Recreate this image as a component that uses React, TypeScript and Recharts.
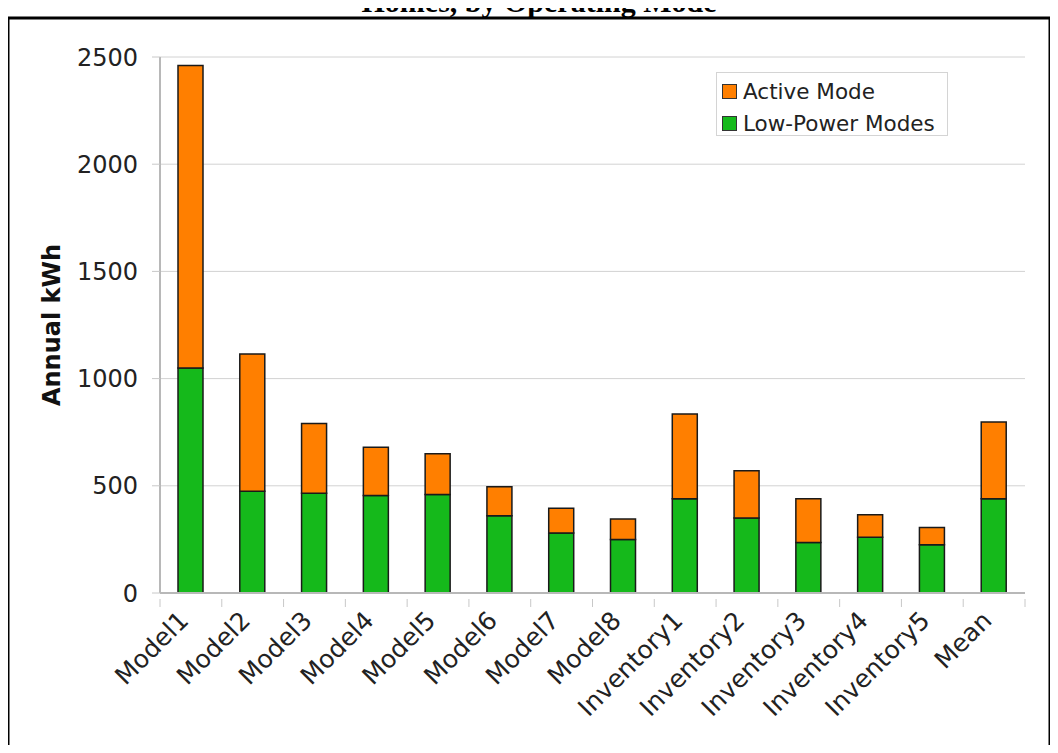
import { BarChart, Bar, XAxis, YAxis, CartesianGrid } from 'recharts'

const categories = [
  'Model1', 'Model2', 'Model3', 'Model4', 'Model5', 'Model6', 'Model7', 'Model8',
  'Inventory1', 'Inventory2', 'Inventory3', 'Inventory4', 'Inventory5', 'Mean',
]
const lowPower = [1050, 475, 465, 455, 460, 360, 280, 250, 440, 350, 235, 260, 225, 440]
const activeMode = [1410, 640, 325, 225, 190, 135, 115, 95, 395, 220, 205, 105, 80, 357]
const yTicks = [0, 500, 1000, 1500, 2000, 2500]

const data = categories.map((name, i) => ({ name, low: lowPower[i], active: activeMode[i] }))

const ORANGE = '#ff7f00'
const GREEN = '#15b91b'
const FONT = '"DejaVu Sans", Verdana, sans-serif'

function CatTick({ x, y, payload, index }: any) {
  const half = payload.offset || 0
  const last = index === categories.length - 1
  return (
    <g>
      <line x1={x - half} x2={x - half} y1={y} y2={y + 8} stroke="#c8c8c8" />
      {last && <line x1={x + half} x2={x + half} y1={y} y2={y + 8} stroke="#c8c8c8" />}
      <g transform={`translate(${x - 7},${y + 17})`}>
        <text textAnchor="end" dominantBaseline="central" transform="rotate(-45)"
          fontSize={25} fill="#222" fontFamily={FONT}>{payload.value}</text>
      </g>
    </g>
  )
}

function YLabel({ viewBox }: any) {
  const cx = viewBox.x + 44
  const cy = viewBox.y + viewBox.height / 2
  return (
    <text x={cx} y={cy} transform={`rotate(-90,${cx},${cy})`} textAnchor="middle"
      dominantBaseline="central" fontSize={24} fontWeight="bold" fill="#111" fontFamily={FONT}>
      Annual kWh
    </text>
  )
}

function LegendBox() {
  const items = [
    { label: 'Active Mode', color: ORANGE },
    { label: 'Low-Power Modes', color: GREEN },
  ]
  return (
    <div style={{ position: 'absolute', left: 716, top: 72, width: 232, height: 64, border: '1px solid #d4d4d4', background: '#fff', boxSizing: 'border-box', paddingTop: 2 }}>
      {items.map((it) => (
        <div key={it.label} style={{ display: 'flex', alignItems: 'center', height: 32, fontFamily: FONT, fontSize: 21.5, color: '#222', whiteSpace: 'nowrap' }}>
          <span style={{ width: 13, height: 13, background: it.color, border: '1px solid #333', marginLeft: 5, marginRight: 6, display: 'inline-block', flex: 'none' }} />
          {it.label}
        </div>
      ))}
    </div>
  )
}

export default function App() {
  return (
    <div style={{ position: 'relative', margin: -8, width: 1058, height: 753, overflow: 'hidden', background: '#fff' }}>
      <BarChart width={1058} height={753} data={data} barSize={25}
        margin={{ top: 57, right: 33, bottom: 30, left: 8 }}>
        <CartesianGrid vertical={false} stroke="#d2d2d2" />
        <XAxis dataKey="name" interval={0} tickLine={false} tickMargin={0}
          axisLine={{ stroke: '#b8b8b8', strokeWidth: 2 }} tick={<CatTick />} height={130} />
        <YAxis domain={[0, 2500]} ticks={yTicks} width={152} tickSize={8} tickMargin={14}
          axisLine={{ stroke: '#b8b8b8', strokeWidth: 2 }} tickLine={{ stroke: '#c8c8c8' }}
          tick={{ fill: '#222', fontSize: 24, fontFamily: FONT }} label={<YLabel />} />
        <YAxis yAxisId="right" orientation="right" width={0} tick={false} tickLine={false}
          axisLine={{ stroke: '#b8b8b8', strokeWidth: 2 }} />
        <Bar dataKey="low" name="Low-Power Modes" stackId="a" fill={GREEN}
          stroke="#1a1a1a" strokeWidth={1.5} isAnimationActive={false} />
        <Bar dataKey="active" name="Active Mode" stackId="a" fill={ORANGE}
          stroke="#1a1a1a" strokeWidth={1.5} isAnimationActive={false} />
      </BarChart>
      <LegendBox />
      <svg width={1058} height={753} style={{ position: 'absolute', left: 0, top: 0, pointerEvents: 'none' }}>
        <text x={539} y={12} textAnchor="middle" fontFamily='"Liberation Serif", "Times New Roman", serif'
          fontWeight="bold" fontSize={30} fill="#000">Homes, by Operating Mode</text>
        <rect x={8} y={18} width={1042} height={800} fill="none" stroke="#000" strokeWidth={3} />
      </svg>
    </div>
  )
}
